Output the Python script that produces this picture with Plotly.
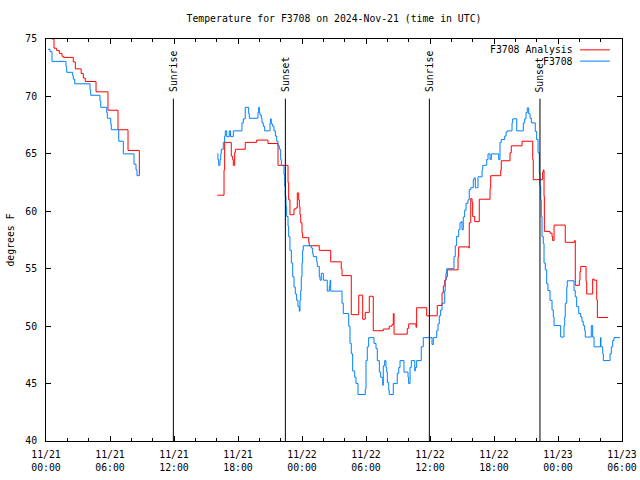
import datetime as dt
import plotly.graph_objects as go

# ---------------- data (hours since 2024-11-21 00:00 UTC) ----------------
analysis_hours = [0.56, 0.75, 1.0, 1.25, 1.5, 1.62, 2.56, 2.75, 3.3, 3.5, 3.68, 4.69, 5.81, 6.75, 7.69, 8.75,
                  None,
                  16.06, 16.69, 16.75, 17.37, 17.5, 17.56, 17.69, 17.75, 18.68, 19.75, 20.81, 21.75, 22.69,
                  22.75, 22.87, 23.25, 23.44, 23.56, 23.69, 23.75, 23.81, 23.88, 24.0, 24.06, 24.63, 24.68,
                  25.62, 26.69, 27.68, 27.75, 28.62, 29.32, 29.69, 29.93, 30.31, 30.68, 31.62, 32.18, 32.44,
                  32.56, 32.63, 33.87, 34.0, 34.69, 34.75, 35.69, 36.68, 37.13, 37.25, 37.38, 37.5, 37.62,
                  38.63, 38.69, 39.63, 39.68, 39.82, 39.94, 40.0, 40.19, 40.62, 41.63, 41.69, 42.63, 42.68,
                  43.5, 43.62, 44.63, 45.63, 45.68, 46.56, 46.62, 46.69, 46.72, 47.25, 47.44, 47.5, 47.63,
                  48.68, 49.56, 49.62, 50.0, 50.06, 50.13, 50.63, 50.69, 51.25, 51.38, 51.63, 51.69, 52.69]
analysis_temps = [75.0, 74.2, 74.0, 73.75, 73.5, 73.4, 73.0, 72.4, 72.0, 71.6, 71.3, 70.4, 68.8, 67.1, 65.3, 63.1,
                  None,
                  61.4, 63.6, 66.0, 64.8, 64.5, 64.0, 65.1, 65.4, 66.0, 66.2, 65.9, 64.0, 62.5,
                  61.0, 59.7, 60.2, 60.3, 61.6, 61.0, 60.4, 59.7, 59.0, 58.1, 57.7, 57.3, 57.0,
                  56.6, 55.6, 55.0, 54.4, 51.0, 52.7, 50.6, 51.2, 52.6, 49.6, 49.75, 50.0, 50.15,
                  51.1, 49.3, 49.8, 50.2, 49.9, 51.6, 50.9, 51.8, 52.9, 53.5, 54.0, 54.3, 54.9,
                  56.05, 56.9, 56.8, 59.0, 61.1, 60.8, 59.55, 59.1, 61.05, 62.0, 63.1, 63.6, 64.4,
                  65.1, 65.7, 66.1, 64.5, 62.75, 63.4, 63.6, 61.3, 58.25, 58.1, 57.8, 57.45, 58.8,
                  57.3, 57.45, 53.55, 54.0, 54.75, 55.2, 53.9, 52.8, 54.1, 54.0, 52.3, 50.75, 50.75]

obs_hours = [0.19, 0.375, 0.56, 1.875, 1.94, 2.5, 2.56, 2.69, 4.125, 4.19, 5.06, 5.13, 5.69, 5.75, 6.07, 6.12,
             6.82, 7.25, 8.25, 8.44, 8.53, 8.75,
             None,
             16.06, 16.12, 16.19, 16.31, 16.38, 16.43, 16.62, 16.75, 16.81, 16.94, 17.18, 17.3, 17.56, 18.37,
             18.5, 18.68, 19.0, 19.06, 19.87, 19.94, 20.0, 20.06, 20.18, 20.25, 20.37, 20.5, 21.0, 21.06,
             21.12, 21.25, 21.37, 21.5, 21.63, 21.75, 21.87, 22.0, 22.06, 22.31, 22.38, 22.43, 22.5, 22.56,
             22.69, 22.75, 22.87, 23.0, 23.13, 23.25, 23.37, 23.5, 23.62, 23.75, 23.81, 23.88, 23.93, 24.0,
             24.06, 24.12, 24.87, 25.0, 25.06, 25.38, 25.43, 25.62, 25.69, 25.81, 26.0, 26.37, 26.56, 26.63,
             26.69, 27.75, 27.87, 28.38, 28.5, 28.62, 28.75, 28.94, 29.06, 29.25, 29.93, 30.0, 30.12, 30.25,
             30.75, 30.94, 31.06, 31.25, 31.38, 31.57, 31.62, 31.75, 31.87, 31.94, 32.0, 32.13, 32.18, 32.56,
             32.93, 33.07, 33.19, 33.56, 33.94, 34.0, 34.13, 34.25, 34.57, 34.62, 34.75, 35.18, 35.37, 36.19,
             36.31, 36.63, 36.75, 36.87, 37.0, 37.13, 37.38, 37.43, 37.5, 37.57, 38.25, 38.37, 38.5, 38.69,
             38.81, 38.93, 39.0, 39.12, 39.25, 39.38, 39.56, 39.68, 39.82, 40.06, 40.13, 40.25, 40.5, 40.88,
             40.94, 41.32, 41.44, 41.63, 41.75, 42.44, 42.56, 42.68, 43.0, 43.13, 43.25, 43.69, 43.75, 44.13,
             44.75, 44.88, 45.0, 45.12, 45.25, 45.38, 45.5, 45.87, 46.0, 46.13, 46.25, 46.31, 46.38, 46.43,
             46.5, 46.62, 46.69, 46.81, 46.94, 47.06, 47.25, 47.44, 47.56, 47.63, 48.25, 48.56, 48.63, 48.68,
             48.82, 48.87, 49.5, 49.62, 49.75, 49.94, 50.13, 50.25, 50.37, 50.5, 50.56, 51.12, 51.25, 51.38,
             51.98, 52.03, 52.19, 52.25, 52.88, 53.0, 53.13, 53.25, 53.81]
obs_temps = [74.1, 73.9, 73.05, 72.6, 72.1, 71.8, 71.5, 71.1, 70.6, 70.1, 69.6, 69.05, 68.6, 68.1, 67.6, 67.1,
             66.1, 65.0, 64.1, 63.6, 63.1, 63.1,
             None,
             65.0, 64.5, 64.0, 64.5, 65.0, 65.4, 66.0, 66.55, 67.0, 66.5, 67.0, 66.5, 67.0, 67.7,
             68.05, 69.05, 68.5, 68.1, 68.6, 69.05, 68.6, 68.4, 68.1, 67.7, 67.4, 67.0, 67.7, 68.05,
             67.6, 67.4, 67.0, 66.55, 66.1, 65.7, 65.4, 64.5, 64.0, 63.2, 62.2, 61.3, 60.4, 59.55,
             58.7, 57.8, 56.6, 55.5, 54.3, 53.4, 52.8, 52.25, 51.7, 51.3, 52.25, 53.1, 54.3, 55.5,
             56.6, 57.0, 56.8, 56.3, 56.05, 55.6, 55.2, 54.3, 54.0, 54.6, 54.0, 53.05, 53.5, 54.0,
             53.05, 52.0, 51.1, 50.0, 48.5, 47.6, 46.1, 45.55, 45.0, 44.05, 44.5, 47.0, 48.2, 49.0,
             48.5, 48.05, 47.0, 46.0, 45.55, 44.85, 46.55, 47.0, 46.4, 46.0, 45.1, 44.4, 44.05, 45.0,
             45.9, 46.4, 47.0, 46.0, 45.55, 45.0, 46.4, 47.0, 46.1, 46.4, 47.0, 48.2, 49.0, 48.4,
             49.0, 49.6, 50.2, 50.9, 51.4, 52.0, 53.1, 54.0, 54.6, 55.0, 56.05, 57.0, 57.8, 58.4,
             59.0, 59.1, 58.4, 59.5, 60.1, 60.7, 61.0, 61.9, 62.05, 62.75, 62.9, 62.05, 63.0, 63.6,
             64.0, 64.5, 65.0, 64.5, 65.0, 64.5, 66.0, 66.25, 66.55, 66.9, 67.0, 67.7, 68.05, 67.0,
             67.7, 68.05, 68.6, 69.0, 68.5, 68.1, 67.7, 66.95, 66.25, 65.1, 63.3, 62.2, 61.0, 59.55,
             57.8, 57.2, 55.5, 54.9, 53.7, 53.1, 52.25, 51.4, 50.8, 50.05, 49.05, 50.05, 50.8, 52.0,
             53.4, 53.95, 53.1, 52.55, 51.7, 51.1, 50.8, 50.4, 50.05, 49.6, 49.05, 50.05, 49.05, 48.2,
             49.0, 48.2, 47.6, 47.0, 47.6, 48.2, 48.75, 49.0, 49.0]

sun_labels = ["Sunrise", "Sunset", "Sunrise", "Sunset"]
sun_hours = [11.94, 22.44, 35.94, 46.31]

tick_hours = [0, 6, 12, 18, 24, 30, 36, 42, 48, 54]
tick_labels = ["11/21<br>00:00", "11/21<br>06:00", "11/21<br>12:00", "11/21<br>18:00",
               "11/22<br>00:00", "11/22<br>06:00", "11/22<br>12:00", "11/22<br>18:00",
               "11/23<br>00:00", "11/23<br>06:00"]
y_ticks = [40, 45, 50, 55, 60, 65, 70, 75]

series_names = ["F3708 Analysis", "F3708"]
series_colors = ["#ff0000", "#0080ff"]

# ---------------- helpers ----------------
BASE = dt.datetime(2024, 11, 21)


def to_time(h):
    return None if h is None else BASE + dt.timedelta(hours=h)


FONT = "DejaVu Sans Mono"
FS = 9.8

fig = go.Figure()
for name, color, hrs, vals in [(series_names[0], series_colors[0], analysis_hours, analysis_temps),
                               (series_names[1], series_colors[1], obs_hours, obs_temps)]:
    fig.add_trace(go.Scatter(
        x=[to_time(h) for h in hrs], y=vals, mode="lines", name=name,
        line=dict(color=color, width=1, shape="hv"), connectgaps=False, showlegend=False))

shapes = []
annotations = []
for lab, h in zip(sun_labels, sun_hours):
    shapes.append(dict(type="line", xref="x", yref="y", x0=to_time(h), x1=to_time(h),
                       y0=40, y1=69.8, line=dict(color="black", width=1)))
    annotations.append(dict(xref="x", yref="y", x=to_time(h), y=70.2, text=lab, textangle=-90,
                            showarrow=False, xanchor="center", yanchor="bottom",
                            font=dict(family=FONT, size=FS, color="black")))

# legend drawn gnuplot-style: text on the left, sample on the right
legend_rows_y = [0.973, 0.945]
for name, color, yy in zip(series_names, series_colors, legend_rows_y):
    annotations.append(dict(xref="paper", yref="paper", x=0.918, y=yy, text=name, showarrow=False,
                            xanchor="right", yanchor="middle",
                            font=dict(family=FONT, size=FS, color="black")))
    shapes.append(dict(type="line", xref="paper", yref="paper", x0=0.927, x1=0.979, y0=yy, y1=yy,
                       line=dict(color=color, width=1)))

fig.update_layout(
    width=640, height=480,
    margin=dict(l=46, r=18, t=39, b=39, autoexpand=False),
    paper_bgcolor="white", plot_bgcolor="white",
    font=dict(family=FONT, size=FS, color="black"),
    title=dict(text="Temperature for F3708 on 2024-Nov-21 (time in UTC)", x=0.5, xref="paper",
               y=1 - 19 / 480, yref="container", xanchor="center", yanchor="middle",
               font=dict(family=FONT, size=FS, color="black"), automargin=False),
    shapes=shapes, annotations=annotations, showlegend=False,
)
fig.update_xaxes(
    type="date", range=[to_time(0), to_time(54)], automargin=False,
    tickvals=[to_time(h) for h in tick_hours], ticktext=tick_labels,
    ticks="inside", ticklen=5, tickcolor="black", tickwidth=1,
    minor=dict(dtick=2 * 3600 * 1000, tick0=to_time(0), ticks="inside", ticklen=3,
               tickcolor="black", tickwidth=1, showgrid=False),
    showline=True, linecolor="black", linewidth=1, mirror="allticks",
    showgrid=False, zeroline=False, ticklabelstandoff=4,
)
fig.update_yaxes(
    range=[40, 75], tickvals=y_ticks, automargin=False,
    ticks="inside", ticklen=5, tickcolor="black", tickwidth=1,
    showline=True, linecolor="black", linewidth=1, mirror="allticks",
    showgrid=False, zeroline=False, ticklabelstandoff=6,
    title=dict(text="degrees F", standoff=8, font=dict(family=FONT, size=FS)),
)

fig.write_html("out.html", config={"displayModeBar": False},
               post_script="document.body.style.margin='0';document.body.style.overflow='hidden';")
